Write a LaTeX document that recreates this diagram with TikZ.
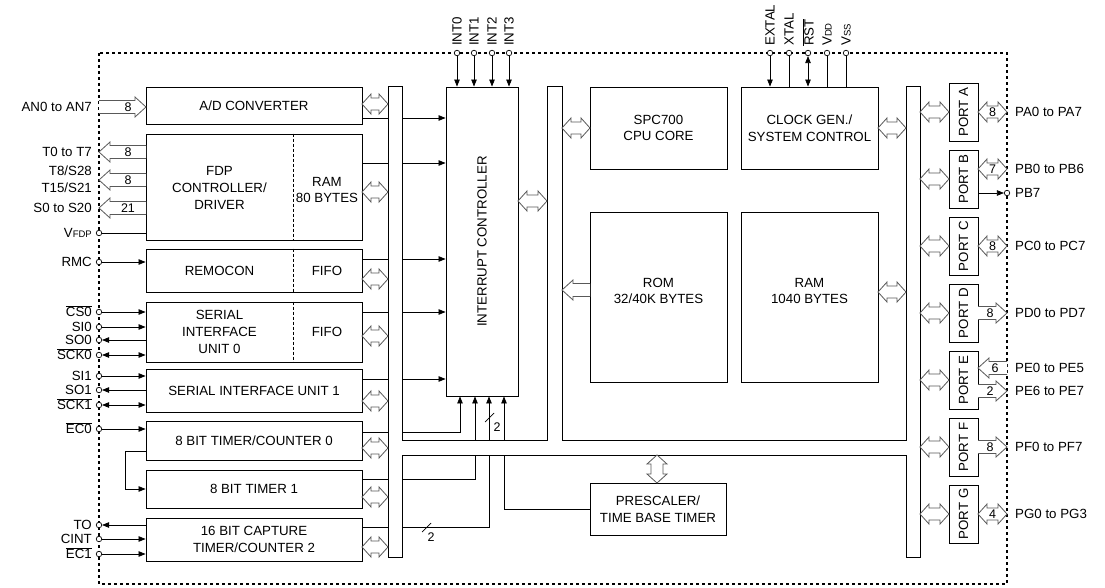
\documentclass[tikz,border=0pt]{standalone}
\usepackage{fontspec}
\setmainfont{Liberation Sans}
\usepackage{graphicx}
\usetikzlibrary{arrows.meta}

\newcommand\blkfont{\fontsize{13.3}{16.7}\selectfont}
\newcommand\numfont{\fontsize{12.5}{14}\selectfont}
\newcommand\smlfont{\fontsize{9.5}{10}\selectfont}
\newcommand\ovl[1]{$\overline{\mbox{#1}}$}

% hollow arrow, one head at the second end
\newcommand\harrow[3]{%
  \pgfmathsetmacro\hd{ifthenelse(#2>#1,-11,11)}%
  \draw[hollow] (#1,#3-6.5) -- (#2+\hd,#3-6.5) -- (#2+\hd,#3-10) -- (#2,#3)
    -- (#2+\hd,#3+10) -- (#2+\hd,#3+6.5) -- (#1,#3+6.5);}
% hollow arrow, heads at both ends
\newcommand\hdbl[3]{%
  \draw[hollow] (#1,#3) -- (#1+9,#3-10) -- (#1+9,#3-6) -- (#2-9,#3-6) -- (#2-9,#3-10)
    -- (#2,#3) -- (#2-9,#3+10) -- (#2-9,#3+6) -- (#1+9,#3+6) -- (#1+9,#3+10) -- cycle;}
\newcommand\vdbl[3]{%
  \draw[hollow] (#1,#2) -- (#1-10,#2+9) -- (#1-6,#2+9) -- (#1-6,#3-9) -- (#1-10,#3-9)
    -- (#1,#3) -- (#1+10,#3-9) -- (#1+6,#3-9) -- (#1+6,#2+9) -- (#1+10,#2+9) -- cycle;}

\begin{document}
\begin{tikzpicture}[x=1pt,y=-1pt,
  blk/.style={draw,line width=0.9pt,inner sep=0pt,align=center,font=\blkfont},
  txt/.style={font=\blkfont,align=center,inner sep=0pt},
  lbl/.style={font=\blkfont,inner sep=0pt},
  sig/.style={line width=0.7pt},
  iopad/.style={circle,draw,fill=white,inner sep=0pt,minimum size=5.5pt,line width=0.7pt},
  hollow/.style={draw=black!65,fill=white,line width=0.8pt},
  numlab/.style={font=\numfont,inner sep=0pt},
  border/.style={line width=2.6pt,dash pattern=on 3pt off 3pt},
  divider/.style={line width=0.6pt,dash pattern=on 3pt off 2pt},
  >={Triangle[length=7pt,width=5.5pt]}]
  \useasboundingbox (0,0) rectangle (1105,588);

  \draw[border] (99,53) rectangle (1007,584);

  % left column
  \node[blk,minimum width=216,minimum height=37] (adc) at (254,105.5) {A/D CONVERTER};
  \node[blk,minimum width=216,minimum height=106] (fdp) at (254,187) {};
  \node[txt] at (219.5,188) {FDP\\CONTROLLER/\\DRIVER};
  \node[txt] at (327,190) {RAM\\80 BYTES};
  \node[blk,minimum width=216,minimum height=43] (rmc) at (254,270.5) {};
  \node[txt] at (219.5,270.5) {REMOCON};
  \node[txt] at (327,270.5) {FIFO};
  \node[blk,minimum width=216,minimum height=60] (sio0) at (254,332) {};
  \node[txt] at (219.5,332) {SERIAL\\INTERFACE\\UNIT 0};
  \node[txt] at (327,332) {FIFO};
  \node[blk,minimum width=216,minimum height=43] (sio1) at (254,390.5) {SERIAL INTERFACE UNIT 1};
  \node[blk,minimum width=216,minimum height=39] (tm0) at (254,440.5) {8 BIT TIMER/COUNTER 0};
  \node[blk,minimum width=216,minimum height=38] (tm1) at (254,489) {8 BIT TIMER 1};
  \node[blk,minimum width=216,minimum height=43] (tm2) at (254,539.5) {16 BIT CAPTURE\\TIMER/COUNTER 2};

  \draw[divider] (fdp.north -| 293,0) -- (fdp.south -| 293,0);
  \draw[divider] (rmc.north -| 293,0) -- (rmc.south -| 293,0);
  \draw[divider] (sio0.north -| 293,0) -- (sio0.south -| 293,0);

  % core
  \node[blk,minimum width=72,minimum height=309] (intc) at (482,241.5) {\rotatebox{90}{INTERRUPT CONTROLLER}};
  \node[blk,minimum width=137,minimum height=82] (cpu) at (658.5,128) {SPC700\\CPU CORE};
  \node[blk,minimum width=137,minimum height=82] (clk) at (809.5,128) {CLOCK GEN./\\SYSTEM CONTROL};
  \node[blk,minimum width=137,minimum height=170] (rom) at (658.5,297) {};
  \node[txt] at (658.5,291) {ROM\\32/40K BYTES};
  \node[blk,minimum width=137,minimum height=170] (ram) at (809.5,297) {};
  \node[txt] at (809.5,291) {RAM\\1040 BYTES};
  \node[blk,minimum width=136,minimum height=52] (pre) at (658,509) {PRESCALER/\\TIME BASE TIMER};

  % interrupt requests
  \draw[sig,->] (adc.east |- 0,118) -- (intc.west |- 0,118);
  \draw[sig,->] (fdp.east |- 0,163) -- (intc.west |- 0,163);
  \draw[sig,->] (rmc.east |- 0,259) -- (intc.west |- 0,259);
  \draw[sig,->] (sio0.east |- 0,312) -- (intc.west |- 0,312);
  \draw[sig,->] (sio1.east |- 0,379) -- (intc.west |- 0,379);
  \draw[sig,->] (tm0.east |- 0,432) -| (intc.south -| 460,0);
  \draw[sig,->] (tm1.east |- 0,479) -| (intc.south -| 475,0);
  \draw[sig,->] (tm2.east |- 0,527) -| (intc.south -| 489,0);
  \draw[sig,->] (pre.west) -| (intc.south -| 504,0);
  \draw[sig] (422,532) -- (431,523);
  \node[numlab] at (431,537) {2};
  \draw[sig] (485,422) -- (494,413);
  \node[numlab] at (497,427) {2};

  % internal bus
  \draw[line width=1pt,fill=white] (388,87) -- (388,557) -- (402,557) -- (402,455)
    -- (906,455) -- (906,557) -- (920,557) -- (920,87) -- (906,87) -- (906,440)
    -- (562,440) -- (562,87) -- (547,87) -- (547,440) -- (402,440) -- (402,87) -- cycle;

  \hdbl{362}{388}{104}
  \hdbl{362}{388}{192}
  \hdbl{362}{388}{279}
  \hdbl{362}{388}{336}
  \hdbl{362}{388}{401}
  \hdbl{362}{388}{448}
  \hdbl{362}{388}{497}
  \hdbl{362}{388}{547}
  \hdbl{518}{547}{201}
  \hdbl{562}{590}{128}
  \harrow{590}{562}{290}
  \hdbl{878}{906}{128}
  \hdbl{878}{906}{292}
  \vdbl{657}{455}{483}

  % timer 0 carry into timer 1
  \draw[sig,->] (tm0.west |- 0,451) -- ++(-20,0) |- (tm1.west);

  % ports
  \foreach \p/\l/\y in {pa/A/112,pb/B/179,pc/C/246,pd/D/313,pe/E/380,pf/F/447,pg/G/514}{
    \node[blk,minimum width=29,minimum height=58] (\p) at (963.5,\y) {\rotatebox{90}{PORT \l}};
    \hdbl{920}{949}{\y}
  }
  \hdbl{978}{1007}{112}  \node[numlab] at (992.5,112) {8};
  \hdbl{978}{1007}{169}  \node[numlab] at (992.5,169) {7};
  \hdbl{978}{1007}{246}  \node[numlab] at (992.5,246) {8};
  \harrow{978}{1007}{313} \node[numlab] at (990,313) {8};
  \harrow{1007}{978}{368} \node[numlab] at (995,368) {6};
  \harrow{978}{1007}{391} \node[numlab] at (990,391) {2};
  \harrow{978}{1007}{447} \node[numlab] at (990,447) {8};
  \hdbl{978}{1007}{514}  \node[numlab] at (992.5,514) {4};

  % left external buses
  \harrow{99}{146}{107} \node[numlab] at (128,107) {8};
  \harrow{146}{99}{152} \node[numlab] at (128,152) {8};
  \harrow{146}{99}{180} \node[numlab] at (128,180) {8};
  \harrow{146}{99}{208} \node[numlab] at (128,208) {21};

  % pads
  \node[iopad] (pvfdp) at (99,233) {};
  \node[iopad] (prmc) at (99,262) {};
  \node[iopad] (pcs0) at (99,312) {};
  \node[iopad] (psi0) at (99,327) {};
  \node[iopad] (pso0) at (99,340) {};
  \node[iopad] (psck0) at (99,355) {};
  \node[iopad] (psi1) at (99,376) {};
  \node[iopad] (pso1) at (99,390) {};
  \node[iopad] (psck1) at (99,405) {};
  \node[iopad] (pec0) at (99,429) {};
  \node[iopad] (pto) at (99,525) {};
  \node[iopad] (pcint) at (99,539) {};
  \node[iopad] (pec1) at (99,554) {};
  \node[iopad] (pint0) at (457,53) {};
  \node[iopad] (pint1) at (474,53) {};
  \node[iopad] (pint2) at (492,53) {};
  \node[iopad] (pint3) at (509,53) {};
  \node[iopad] (pextal) at (770,53) {};
  \node[iopad] (pxtal) at (789,53) {};
  \node[iopad] (prst) at (808,53) {};
  \node[iopad] (pvdd) at (827,53) {};
  \node[iopad] (pvss) at (846,53) {};
  \node[iopad] (ppb7) at (1007,193) {};

  \draw[sig] (pvfdp) -- (fdp.west |- pvfdp);
  \draw[sig,->] (prmc) -- (rmc.west |- prmc);
  \draw[sig,->] (pcs0) -- (sio0.west |- pcs0);
  \draw[sig,->] (psi0) -- (sio0.west |- psi0);
  \draw[sig,<-] (pso0) -- (sio0.west |- pso0);
  \draw[sig,<->] (psck0) -- (sio0.west |- psck0);
  \draw[sig,->] (psi1) -- (sio1.west |- psi1);
  \draw[sig,<-] (pso1) -- (sio1.west |- pso1);
  \draw[sig,<->] (psck1) -- (sio1.west |- psck1);
  \draw[sig,->] (pec0) -- (tm0.west |- pec0);
  \draw[sig,<-] (pto) -- (tm2.west |- pto);
  \draw[sig,->] (pcint) -- (tm2.west |- pcint);
  \draw[sig,->] (pec1) -- (tm2.west |- pec1);
  \draw[sig,->] (pint0) -- (pint0 |- intc.north);
  \draw[sig,->] (pint1) -- (pint1 |- intc.north);
  \draw[sig,->] (pint2) -- (pint2 |- intc.north);
  \draw[sig,->] (pint3) -- (pint3 |- intc.north);
  \draw[sig,->] (pextal) -- (pextal |- clk.north);
  \draw[sig] (pxtal) -- (pxtal |- clk.north);
  \draw[sig,<->] (prst) -- (prst |- clk.north);
  \draw[sig] (pvdd) -- (pvdd |- clk.north);
  \draw[sig] (pvss) -- (pvss |- clk.north);
  \draw[sig,->] (pb.east |- ppb7) -- (ppb7);

  % pin names
  \node[lbl,anchor=base east] at (92,111.7) {AN0 to AN7};
  \node[lbl,anchor=base east] at (92,156.7) {T0 to T7};
  \node[lbl,anchor=east,align=right,font=\fontsize{13.3}{17}\selectfont] at (92,179.5) {T8/S28\\T15/S21};
  \node[lbl,anchor=base east] at (92,212.7) {S0 to S20};
  \node[lbl,anchor=base east] at (92,237.7) {V{\smlfont FDP}};
  \node[lbl,anchor=base east] at (92,266.7) {RMC};
  \node[lbl,anchor=base east] at (92,316.7) {\ovl{CS0}};
  \node[lbl,anchor=base east] at (92,331.7) {SI0};
  \node[lbl,anchor=base east] at (92,344.7) {SO0};
  \node[lbl,anchor=base east] at (92,359.7) {\ovl{SCK0}};
  \node[lbl,anchor=base east] at (92,380.7) {SI1};
  \node[lbl,anchor=base east] at (92,394.7) {SO1};
  \node[lbl,anchor=base east] at (92,409.7) {\ovl{SCK1}};
  \node[lbl,anchor=base east] at (92,433.7) {\ovl{EC0}};
  \node[lbl,anchor=base east] at (92,529.7) {TO};
  \node[lbl,anchor=base east] at (92,543.7) {CINT};
  \node[lbl,anchor=base east] at (92,558.7) {\ovl{EC1}};

  \node[lbl,rotate=90,anchor=west] at (457,46) {INT0};
  \node[lbl,rotate=90,anchor=west] at (474,46) {INT1};
  \node[lbl,rotate=90,anchor=west] at (492,46) {INT2};
  \node[lbl,rotate=90,anchor=west] at (509,46) {INT3};
  \node[lbl,rotate=90,anchor=west] at (770,46) {EXTAL};
  \node[lbl,rotate=90,anchor=west] at (789,46) {XTAL};
  \node[lbl,rotate=90,anchor=west] at (808,46) {\ovl{RST}};
  \node[lbl,rotate=90,anchor=west] at (827,46) {V{\smlfont DD}};
  \node[lbl,rotate=90,anchor=west] at (846,46) {V{\smlfont SS}};

  \node[lbl,anchor=base west] at (1015,116.7) {PA0 to PA7};
  \node[lbl,anchor=base west] at (1015,173.7) {PB0 to PB6};
  \node[lbl,anchor=base west] at (1015,197.7) {PB7};
  \node[lbl,anchor=base west] at (1015,250.7) {PC0 to PC7};
  \node[lbl,anchor=base west] at (1015,317.7) {PD0 to PD7};
  \node[lbl,anchor=base west] at (1015,372.7) {PE0 to PE5};
  \node[lbl,anchor=base west] at (1015,395.7) {PE6 to PE7};
  \node[lbl,anchor=base west] at (1015,451.7) {PF0 to PF7};
  \node[lbl,anchor=base west] at (1015,518.7) {PG0 to PG3};
\end{tikzpicture}
\end{document}
